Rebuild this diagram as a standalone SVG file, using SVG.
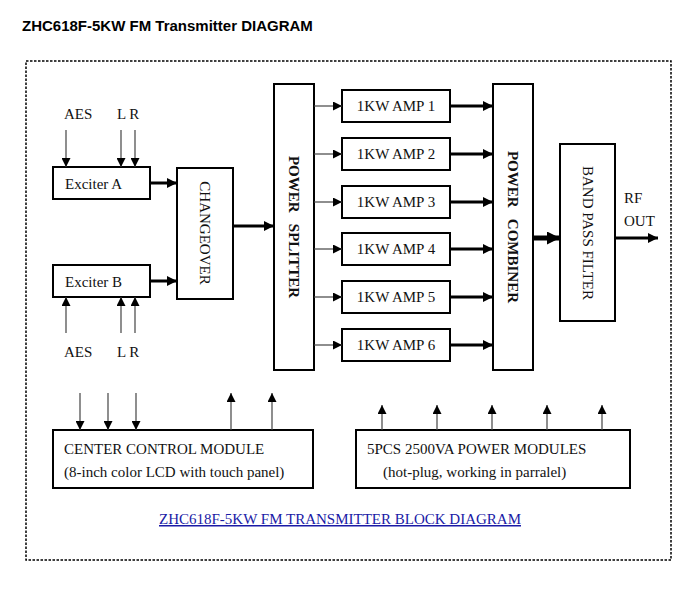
<svg xmlns="http://www.w3.org/2000/svg" width="696" height="590" viewBox="0 0 696 590">
<defs>
<marker id="a" viewBox="0 0 10 10" refX="10" refY="5" markerWidth="9" markerHeight="9" markerUnits="userSpaceOnUse" orient="auto"><path d="M0,0L10,5L0,10z" fill="#000"/></marker>
<marker id="t" viewBox="0 0 10 10" refX="10" refY="5" markerWidth="10" markerHeight="10" markerUnits="userSpaceOnUse" orient="auto"><path d="M0,0L10,5L0,10z" fill="#000"/></marker>
<marker id="big" viewBox="0 0 10 10" refX="10" refY="5" markerWidth="13" markerHeight="13" markerUnits="userSpaceOnUse" orient="auto"><path d="M0,0L10,5L0,10z" fill="#000"/></marker>
<style>
rect{fill:#fff;stroke:#000;stroke-width:2}
text{font-family:"Liberation Serif",serif;font-size:15px;fill:#111}
.b{font-weight:bold;white-space:pre}
.thin{stroke:#444;stroke-width:1.2;fill:none}
.thick{stroke:#000;stroke-width:3;fill:none}
</style>
</defs>
<rect width="696" height="590" style="fill:#fff;stroke:none"/>
<text x="22" y="31" style="font-family:'Liberation Sans',sans-serif;font-weight:bold;font-size:15px;fill:#000">ZHC618F-5KW FM Transmitter DIAGRAM</text>
<rect x="26" y="61" width="645" height="499" style="fill:none;stroke:#000;stroke-width:1.5;stroke-dasharray:2.5,1.5"/>
<g id="exA"><rect x="53" y="167" width="97" height="32"/><text x="65" y="189">Exciter A</text></g>
<g id="exB"><rect x="53" y="265" width="97" height="32"/><text x="65" y="287">Exciter B</text></g>
<g id="chg"><rect x="177" y="168" width="56" height="131"/><text transform="translate(200,233) rotate(90)" text-anchor="middle">CHANGEOVER</text></g>
<g id="spl"><rect x="274" y="84" width="40" height="286"/><text class="b" transform="translate(289,227) rotate(90)" text-anchor="middle">POWER   SPLITTER</text></g>
<g id="cmb"><rect x="493" y="84" width="40" height="286"/><text class="b" transform="translate(508,227) rotate(90)" text-anchor="middle">POWER   COMBINER</text></g>
<g id="bpf"><rect x="560" y="144" width="55" height="177"/><text transform="translate(583,233) rotate(90)" text-anchor="middle">BAND PASS FILTER</text></g>
<g id="amp1"><rect x="342" y="90" width="108" height="32"/><text x="396" y="111" text-anchor="middle">1KW AMP 1</text></g>
<g id="amp2"><rect x="342" y="138" width="108" height="32"/><text x="396" y="159" text-anchor="middle">1KW AMP 2</text></g>
<g id="amp3"><rect x="342" y="186" width="108" height="32"/><text x="396" y="207" text-anchor="middle">1KW AMP 3</text></g>
<g id="amp4"><rect x="342" y="233" width="108" height="32"/><text x="396" y="254" text-anchor="middle">1KW AMP 4</text></g>
<g id="amp5"><rect x="342" y="281" width="108" height="32"/><text x="396" y="302" text-anchor="middle">1KW AMP 5</text></g>
<g id="amp6"><rect x="342" y="329" width="108" height="32"/><text x="396" y="350" text-anchor="middle">1KW AMP 6</text></g>
<g id="ccm"><rect x="53" y="430" width="260" height="58"/><text x="64" y="454">CENTER CONTROL MODULE</text><text x="64" y="477">(8-inch color LCD with touch panel)</text></g>
<g id="pwr"><rect x="356" y="430" width="274" height="58"/><text x="367" y="454">5PCS 2500VA POWER MODULES</text><text x="383" y="477">(hot-plug, working in parralel)</text></g>
<g id="labels">
<text x="64" y="119">AES</text><text x="117" y="119">L R</text>
<text x="64" y="357">AES</text><text x="117" y="357">L R</text>
<text x="624" y="203">RF</text><text x="624" y="226">OUT</text>
<text x="340" y="524" text-anchor="middle" style="fill:#1a1aa6;text-decoration:underline">ZHC618F-5KW FM TRANSMITTER BLOCK DIAGRAM</text>
</g>
<g id="connectors" marker-end="url(#a)">
<line class="thin" x1="66" y1="130" x2="66" y2="167"/>
<line class="thin" x1="121" y1="130" x2="121" y2="167"/>
<line class="thin" x1="135" y1="130" x2="135" y2="167"/>
<line class="thin" x1="66" y1="333" x2="66" y2="297"/>
<line class="thin" x1="121" y1="333" x2="121" y2="297"/>
<line class="thin" x1="135" y1="333" x2="135" y2="297"/>
<line class="thick" x1="150" y1="183" x2="177" y2="183" marker-end="url(#t)"/>
<line class="thick" x1="150" y1="281" x2="177" y2="281" marker-end="url(#t)"/>
<line class="thick" x1="233" y1="226" x2="274" y2="226" marker-end="url(#t)"/>
<line class="thin" x1="314" y1="106" x2="342" y2="106"/>
<line class="thin" x1="314" y1="154" x2="342" y2="154"/>
<line class="thin" x1="314" y1="202" x2="342" y2="202"/>
<line class="thin" x1="314" y1="249" x2="342" y2="249"/>
<line class="thin" x1="314" y1="297" x2="342" y2="297"/>
<line class="thin" x1="314" y1="345" x2="342" y2="345"/>
<line class="thick" x1="450" y1="106" x2="493" y2="106" marker-end="url(#t)"/>
<line class="thick" x1="450" y1="154" x2="493" y2="154" marker-end="url(#t)"/>
<line class="thick" x1="450" y1="202" x2="493" y2="202" marker-end="url(#t)"/>
<line class="thick" x1="450" y1="249" x2="493" y2="249" marker-end="url(#t)"/>
<line class="thick" x1="450" y1="297" x2="493" y2="297" marker-end="url(#t)"/>
<line class="thick" x1="450" y1="345" x2="493" y2="345" marker-end="url(#t)"/>
<line x1="533" y1="238" x2="560" y2="238" style="stroke:#000;stroke-width:5" marker-end="url(#big)"/>
<line class="thick" x1="615" y1="238" x2="658" y2="238" marker-end="url(#t)"/>
<line class="thin" x1="80" y1="393" x2="80" y2="430"/>
<line class="thin" x1="108" y1="393" x2="108" y2="430"/>
<line class="thin" x1="136" y1="393" x2="136" y2="430"/>
<line class="thin" x1="231" y1="430" x2="231" y2="393"/>
<line class="thin" x1="272" y1="430" x2="272" y2="393"/>
<line class="thin" x1="382" y1="430" x2="382" y2="405"/>
<line class="thin" x1="437" y1="430" x2="437" y2="405"/>
<line class="thin" x1="492" y1="430" x2="492" y2="405"/>
<line class="thin" x1="547" y1="430" x2="547" y2="405"/>
<line class="thin" x1="602" y1="430" x2="602" y2="405"/>
</g>
</svg>
